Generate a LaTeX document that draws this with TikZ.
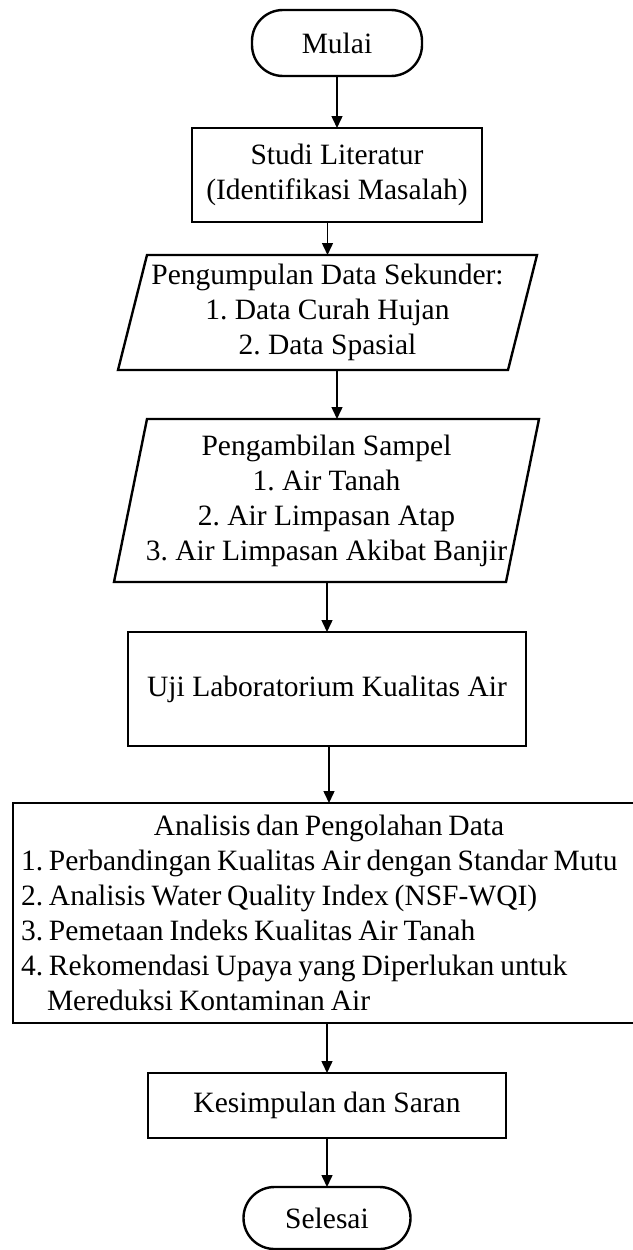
\documentclass[tikz,border=0pt]{standalone}
\usepackage{fontspec}
\setmainfont{Liberation Serif}
\usetikzlibrary{arrows.meta, positioning}

\begin{document}
\frenchspacing
\begin{tikzpicture}[
  x=1pt, y=-1pt,
  font=\fontsize{29.5}{35}\selectfont,
  outline/.style={line width=2.4pt},
  box/.style={draw, outline, rectangle, inner sep=0pt, outer sep=0pt, align=center},
  term/.style={box, rounded corners=31pt},
  para/.style={rectangle, inner sep=0pt, outer sep=0pt, align=center},
  arrow/.style={-{Triangle[length=12pt, width=11pt]}, line width=1.5pt}
]
  \useasboundingbox (0,0) rectangle (632,1250);

  \node[term, minimum width=170pt, minimum height=66pt] (mulai) at (337,43) {Mulai};
  \node[box, minimum width=290pt, minimum height=94pt, below=52pt of mulai] (studi) {Studi Literatur\\(Identifikasi Masalah)};
  \node[para, minimum width=390pt, minimum height=115pt, below=33pt of studi, xshift=-9.5pt] (kumpul) {Pengumpulan Data Sekunder:\\1. Data Curah Hujan\\2. Data Spasial};
  \node[para, minimum width=392pt, minimum height=163pt, below=49pt of kumpul, xshift=-1pt] (ambil) {Pengambilan Sampel\\1. Air Tanah\\2. Air Limpasan Atap\\3. Air Limpasan Akibat Banjir};
  \node[box, minimum width=398pt, minimum height=114pt, below=50pt of ambil, xshift=0.5pt] (uji) {Uji Laboratorium Kualitas Air};
  \node[box, align=left, text width=616pt, minimum width=632pt, minimum height=220pt, below=57pt of uji, xshift=2pt] (analisis)
    {\spaceskip=.2em\relax
     \hbox to\hsize{\hfil Analisis dan Pengolahan Data\hfil}\\
     \mbox{1. Perbandingan Kualitas Air dengan Standar Mutu}\\
     \mbox{2. Analisis Water Quality Index (NSF-WQI)}\\
     \mbox{3. Pemetaan Indeks Kualitas Air Tanah}\\
     \mbox{4. Rekomendasi Upaya yang Diperlukan untuk}\\
     \hspace*{26pt}Mereduksi Kontaminan Air};
  \node[box, minimum width=358pt, minimum height=65pt, below=50pt of analisis, xshift=-2pt] (kesimpulan) {Kesimpulan dan Saran};
  \node[term, minimum width=167pt, minimum height=62pt, below=49pt of kesimpulan] (selesai) {Selesai};

  % parallelogram outlines
  \draw[outline] ([xshift=14.5pt]kumpul.north west) -- ([xshift=14.5pt]kumpul.north east)
    -- ([xshift=-14.5pt]kumpul.south east) -- ([xshift=-14.5pt]kumpul.south west) -- cycle;
  \draw[outline] ([xshift=16.5pt]ambil.north west) -- ([xshift=16.5pt]ambil.north east)
    -- ([xshift=-16.5pt]ambil.south east) -- ([xshift=-16.5pt]ambil.south west) -- cycle;

  \draw[arrow] (mulai) -- (studi);
  \draw[arrow] (studi.south -| kumpul.north) -- (kumpul.north);
  \draw[arrow] (kumpul.south -| mulai) -- (ambil.north -| mulai);
  \draw[arrow] (ambil.south -| uji.north) -- (uji.north);
  \draw[arrow] (uji.south -| analisis.north) -- (analisis.north);
  \draw[arrow] (analisis.south -| kesimpulan.north) -- (kesimpulan.north);
  \draw[arrow] (kesimpulan) -- (selesai);
\end{tikzpicture}
\end{document}
